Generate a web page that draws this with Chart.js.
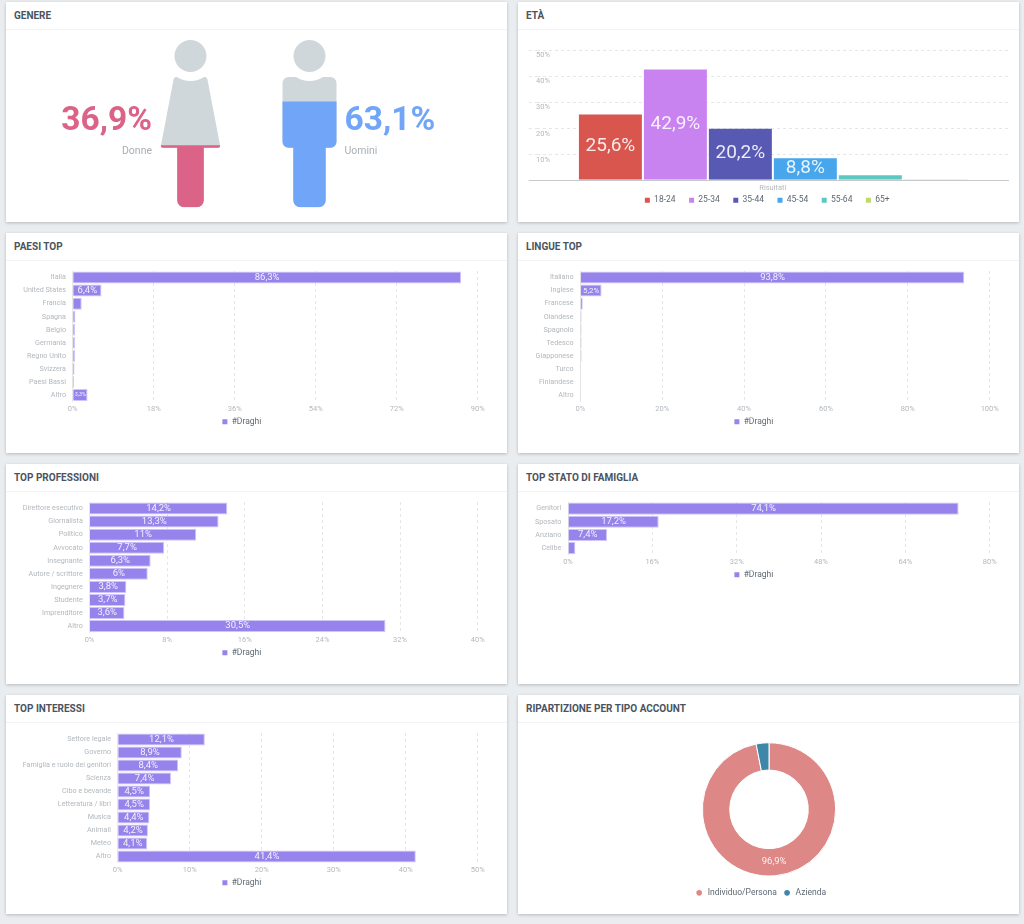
<!DOCTYPE html>
<html>
<head>
<meta charset="utf-8">
<title>Audience #Draghi</title>
<script src="https://cdn.jsdelivr.net/npm/chart.js@4/dist/chart.umd.min.js"></script>
<style>
html, body { margin: 0; padding: 0; background: #e9edf0; }
body { position: relative; width: 1024px; height: 924px; overflow: hidden; font-family: Roboto, sans-serif; }
.card { position: absolute; background: #fff; box-shadow: 0 1px 3px rgba(0,0,0,.22); }
.card h2 { margin: 0; height: 27px; line-height: 27px; padding-left: 8px; font-size: 10px; font-weight: 700; color: #4a545e; border-bottom: 1px solid #f2f3f4; }
canvas { position: absolute; display: block; }
</style>
</head>
<body>
<div class="card" style="left:6px;top:2px;width:501px;height:220px"><h2>GENERE</h2></div>
<div class="card" style="left:518px;top:2px;width:501px;height:220px"><h2>ETÀ</h2></div>
<div class="card" style="left:6px;top:233px;width:501px;height:220px"><h2>PAESI TOP</h2></div>
<div class="card" style="left:518px;top:233px;width:501px;height:220px"><h2>LINGUE TOP</h2></div>
<div class="card" style="left:6px;top:464px;width:501px;height:220px"><h2>TOP PROFESSIONI</h2></div>
<div class="card" style="left:518px;top:464px;width:501px;height:220px"><h2>TOP STATO DI FAMIGLIA</h2></div>
<div class="card" style="left:6px;top:695px;width:501px;height:219px"><h2>TOP INTERESSI</h2></div>
<div class="card" style="left:518px;top:695px;width:501px;height:219px"><h2>RIPARTIZIONE PER TIPO ACCOUNT</h2></div>
<script>
// data
const genderLabels = ['Donne', 'Uomini'];
const genderValues = [36.9, 63.1];

const ageLabels = ['18-24', '25-34', '35-44', '45-54', '55-64', '65+'];
const ageValues = [25.6, 42.9, 20.2, 8.8, 2.3, 0.3];
const ageColors = ['#d9564f', '#c983f1', '#5859b3', '#47a6ec', '#5cc8c1', '#c3d86a'];

const countryLabels = ['Italia', 'United States', 'Francia', 'Spagna', 'Belgio', 'Germania', 'Regno Unito', 'Svizzera', 'Paesi Bassi', 'Altro'];
const countryValues = [86.3, 6.4, 2, 0.6, 0.5, 0.5, 0.5, 0.4, 0.3, 3.3];

const languageLabels = ['Italiano', 'Inglese', 'Francese', 'Olandese', 'Spagnolo', 'Tedesco', 'Giapponese', 'Turco', 'Finlandese', 'Altro'];
const languageValues = [93.8, 5.2, 0.6, 0.3, 0.3, 0.3, 0.3, 0.2, 0.2, 0.2];

const jobLabels = ['Direttore esecutivo', 'Giornalista', 'Politico', 'Avvocato', 'Insegnante', 'Autore / scrittore', 'Ingegnere', 'Studente', 'Imprenditore', 'Altro'];
const jobValues = [14.2, 13.3, 11, 7.7, 6.3, 6, 3.8, 3.7, 3.6, 30.5];

const familyLabels = ['Genitori', 'Sposato', 'Anziano', 'Celibe'];
const familyValues = [74.1, 17.2, 7.4, 1.4];

const interestLabels = ['Settore legale', 'Governo', 'Famiglia e ruolo dei genitori', 'Scienza', 'Cibo e bevande', 'Letteratura / libri', 'Musica', 'Animali', 'Meteo', 'Altro'];
const interestValues = [12.1, 8.9, 8.4, 7.4, 4.5, 4.5, 4.4, 4.2, 4.1, 41.4];

const accountLabels = ['Individuo/Persona', 'Azienda'];
const accountValues = [96.9, 3.1];

Chart.defaults.font.family = 'Roboto';
Chart.defaults.animation = false;
Chart.defaults.responsive = false;
Chart.defaults.plugins.tooltip.enabled = false;

const tickColor = '#b3b8bd';
const gridColor = '#e4e6e8';
const axisColor = '#c6cacd';
const legendColor = '#5f6973';
const draghiColor = '#9683ec';
const genderColors = ['#db6388', '#70a5f7'];

const pct = v => String(v).replace('.', ',') + '%';

function addCanvas(x, y, w, h) {
  const c = document.createElement('canvas');
  c.width = w;
  c.height = h;
  c.style.left = x + 'px';
  c.style.top = y + 'px';
  document.body.appendChild(c);
  return c;
}

// writes the values on the bars, shrinking the text when the bar is short
const valueLabels = {
  id: 'valueLabels',
  afterDatasetsDraw(chart, args, opts) {
    const ctx = chart.ctx;
    chart.data.datasets.forEach((ds, i) => {
      chart.getDatasetMeta(i).data.forEach((el, j) => {
        const v = ds.data[j];
        if (v < opts.min) return;
        const p = el.tooltipPosition ? el.tooltipPosition() : el;
        let size = opts.size;
        const text = pct(v);
        ctx.save();
        ctx.font = size + 'px Roboto';
        if (opts.fit) {
          const room = Math.abs(el.x - el.base) * 0.78;
          const w = ctx.measureText(text).width;
          if (w > room) size = size * room / w;
        }
        ctx.font = size + 'px Roboto';
        ctx.fillStyle = 'rgba(255,255,255,.88)';
        ctx.textAlign = 'center';
        ctx.textBaseline = 'middle';
        const cy = opts.fit || opts.arc ? p.y : (el.y + el.base) / 2;
        const cx = opts.fit ? (el.x + el.base) / 2 : p.x;
        ctx.fillText(text, cx, cy);
        ctx.restore();
      });
    });
  }
};

// shifts the legend box after layout
function moveLegend(dx, dy) {
  return {
    id: 'moveLegend',
    afterLayout(chart) {
      chart.legend.left += dx;
      chart.legend.right += dx;
      chart.legend.top += dy;
      chart.legend.bottom += dy;
    }
  };
}

// legend swatches without the marks' pale border
function plainSwatches(chart) {
  const source = chart.config.type === 'doughnut' ? Chart.overrides.doughnut : Chart.defaults;
  const items = source.plugins.legend.labels.generateLabels(chart);
  items.forEach(it => { it.lineWidth = 0; });
  return items;
}

function legendOptions(padding) {
  return {
    position: 'bottom',
    labels: { boxWidth: 5, boxHeight: 5, padding: padding, color: legendColor, font: { size: 8.5 }, generateLabels: plainSwatches }
  };
}

// horizontal bar panel, plot edges given in page pixels
function barPanel(cardX, top, labels, values, tickMax, tickStep, box) {
  const canvasW = 492;
  const canvasH = Math.round(box.legendY + 15.4 - top);
  const canvas = addCanvas(cardX, top, canvasW, canvasH);
  new Chart(canvas, {
    type: 'bar',
    plugins: [valueLabels],
    data: {
      labels: labels,
      datasets: [{
        label: '#Draghi',
        data: values,
        backgroundColor: draghiColor,
        borderColor: '#cfc5f9',
        borderWidth: 1,
        categoryPercentage: 1,
        barPercentage: 0.92
      }]
    },
    options: {
      indexAxis: 'y',
      layout: { padding: { top: box.top - top, right: cardX + canvasW - box.right, left: 0, bottom: 0 } },
      plugins: {
        legend: legendOptions(0),
        valueLabels: { size: 9.5, min: box.minLabel, fit: true }
      },
      scales: {
        x: {
          min: 0,
          max: tickMax,
          afterFit: s => { s.height = canvasH - (box.bottom - top) - s.chart.legend.height; },
          grid: { color: gridColor, drawTicks: false },
          border: { display: false, dash: [3, 3] },
          ticks: { stepSize: tickStep, padding: 3, color: tickColor, font: { size: 7.5 }, maxRotation: 0, callback: v => v + '%' }
        },
        y: {
          afterFit: s => { s.width = box.left - cardX; },
          grid: { display: false, drawTicks: false },
          border: { color: gridColor },
          ticks: { autoSkip: false, padding: 6.7, color: tickColor, font: { size: 7.2 } }
        }
      }
    }
  });
}

// age panel: one group, one dataset per age band
(function agePanel() {
  const cardX = 518, top = 30, canvasW = 492;
  const axisLeft = 528.7, plotLeft = 537, plotRight = 1008.7, plotTop = 50, plotBottom = 180.3, legendY = 199;
  const legendPad = 13.5;
  const canvasH = Math.ceil(plotBottom - top + 14 + legendPad + 20.8);
  new Chart(addCanvas(cardX, top, canvasW, canvasH), {
    type: 'bar',
    plugins: [valueLabels, moveLegend(-1.5, legendY + 15.4 - top - canvasH)],
    data: {
      labels: ['Risultati'],
      datasets: ageLabels.map((name, i) => ({
        label: name,
        data: [ageValues[i]],
        backgroundColor: ageColors[i],
        borderColor: 'rgba(255,255,255,.3)',
        borderWidth: i === ageLabels.length - 1 ? 0 : 1,
        categoryPercentage: 0.8265,
        barPercentage: 1
      }))
    },
    options: {
      layout: { padding: { top: plotTop - top, left: axisLeft - cardX, right: cardX + canvasW - plotRight, bottom: 0 } },
      plugins: {
        legend: legendOptions(legendPad),
        valueLabels: { size: 19, min: 5 }
      },
      scales: {
        x: {
          afterFit: s => { s.height = canvasH - (plotBottom - top) - s.chart.legend.height; },
          grid: { display: false, drawTicks: false },
          border: { color: axisColor },
          ticks: { padding: 3, color: tickColor, font: { size: 7.5 } }
        },
        y: {
          min: 0,
          max: 50,
          afterFit: s => { s.width = plotLeft - axisLeft; },
          grid: {
            color: gridColor,
            tickLength: plotLeft - axisLeft,
            tickBorderDash: ctx => ctx.tick.value === 0 ? [] : [3, 3],
            tickColor: ctx => ctx.tick.value === 0 ? axisColor : gridColor
          },
          border: { display: false, dash: [3, 3] },
          ticks: { stepSize: 10, mirror: true, padding: -1, labelOffset: 5.5, color: tickColor, font: { size: 7.5 }, callback: v => v ? v + '%' : '' }
        }
      }
    }
  });
})();

// gender panel: two bars on a 0-100 scale, clipped to the silhouettes
function roundedPath(ctx, pts) {
  pts.forEach((p, i) => {
    const next = pts[i + 1];
    if (!next || !p[2]) ctx.lineTo(p[0], p[1]);
    else ctx.arcTo(p[0], p[1], next[0], next[1], p[2]);
  });
}

function bodyPath(ctx, cx, yTop, yHip, yFoot, shoulder, hem, leg, rTop, rHem) {
  ctx.moveTo(cx + 13.6, yTop);
  const right = [[cx + shoulder, yTop, rTop], [cx + hem, yHip, rHem], [cx + leg, yHip, 0], [cx + leg, yFoot, 7]];
  const left = [[cx - leg, yFoot, 7], [cx - leg, yHip, 0], [cx - hem, yHip, rHem], [cx - shoulder, yTop, rTop], [cx - 13.6, yTop, 0]];
  roundedPath(ctx, right.concat(left));
  ctx.arc(cx, yTop - 21, 25, Math.atan2(21, -13.6), Math.atan2(21, 13.6), true);
  ctx.closePath();
}

const personFigures = {
  id: 'personFigures',
  beforeDatasetsDraw(chart) {
    const ctx = chart.ctx;
    const x = chart.scales.x, y = chart.scales.y;
    const top = y.getPixelForValue(100), foot = y.getPixelForValue(0);
    const cxF = x.getPixelForValue(0), cxM = x.getPixelForValue(1);
    const shape = () => {
      ctx.beginPath();
      bodyPath(ctx, cxF, top + 37, top + 107.7, foot, 16.5, 30, 13.3, 3, 2);
      bodyPath(ctx, cxM, top + 37, top + 107.7, foot, 27, 27, 16.2, 6, 6);
    };
    ctx.save();
    ctx.fillStyle = '#d0d7db';
    [cxF, cxM].forEach(cx => {
      ctx.beginPath();
      ctx.arc(cx, top + 16, 16, 0, Math.PI * 2);
      ctx.fill();
    });
    shape();
    ctx.fill();
    shape();
    ctx.clip();
  },
  afterDatasetsDraw(chart) {
    const ctx = chart.ctx;
    ctx.restore();
    const x = chart.scales.x;
    const cxF = x.getPixelForValue(0), cxM = x.getPixelForValue(1);
    ctx.save();
    ctx.textBaseline = 'middle';
    ctx.font = '700 33.5px Roboto';
    ctx.fillStyle = genderColors[0];
    ctx.textAlign = 'right';
    ctx.fillText(pct(genderValues[0]), cxF - 38.5, 92);
    ctx.fillStyle = genderColors[1];
    ctx.textAlign = 'left';
    ctx.fillText(pct(genderValues[1]), cxM + 35, 92);
    ctx.font = '10.5px Roboto';
    ctx.fillStyle = '#a9afb6';
    ctx.textAlign = 'right';
    ctx.fillText(genderLabels[0], cxF - 38.5, 121);
    ctx.textAlign = 'left';
    ctx.fillText(genderLabels[1], cxM + 35, 121);
    ctx.restore();
  }
};

new Chart(addCanvas(6, 30, 501, 192), {
  type: 'bar',
  plugins: [personFigures],
  data: {
    labels: genderLabels,
    datasets: [{ data: genderValues, backgroundColor: genderColors, barThickness: 80 }]
  },
  options: {
    layout: { padding: { left: 125, right: 138, top: 10, bottom: 14.7 } },
    plugins: { legend: { display: false } },
    scales: {
      x: { display: false },
      y: { display: false, min: 0, max: 100 }
    }
  }
});

barPanel(6, 260, countryLabels, countryValues, 90, 18, { left: 72.7, right: 477.7, top: 269.4, bottom: 401.6, legendY: 420.7, minLabel: 3 });
barPanel(518, 260, languageLabels, languageValues, 100, 20, { left: 580.3, right: 989.7, top: 269.4, bottom: 401.6, legendY: 420.7, minLabel: 5 });
barPanel(6, 491, jobLabels, jobValues, 40, 8, { left: 89.5, right: 477.7, top: 501.1, bottom: 632.6, legendY: 652, minLabel: 0 });
barPanel(518, 491, familyLabels, familyValues, 80, 16, { left: 568, right: 989.7, top: 501.1, bottom: 554.7, legendY: 573.3, minLabel: 2 });
barPanel(6, 722, interestLabels, interestValues, 50, 10, { left: 117.7, right: 477.7, top: 731.1, bottom: 862.9, legendY: 882, minLabel: 0 });

// account doughnut
new Chart(addCanvas(518, 722, 502, 179), {
  type: 'doughnut',
  plugins: [valueLabels, moveLegend(-8.5, 6.1)],
  data: {
    labels: accountLabels,
    datasets: [{ data: accountValues, backgroundColor: ['#dd8886', '#3f87a8'], borderColor: '#fff', borderWidth: 1 }]
  },
  options: {
    cutout: '59%',
    layout: { padding: { top: 20.3 } },
    plugins: {
      legend: {
        position: 'bottom',
        labels: { usePointStyle: true, pointStyle: 'circle', boxHeight: 4, padding: 6, color: legendColor, font: { size: 8.5 }, generateLabels: plainSwatches }
      },
      valueLabels: { size: 9.5, min: 5, arc: true }
    }
  }
});
</script>
</body>
</html>
